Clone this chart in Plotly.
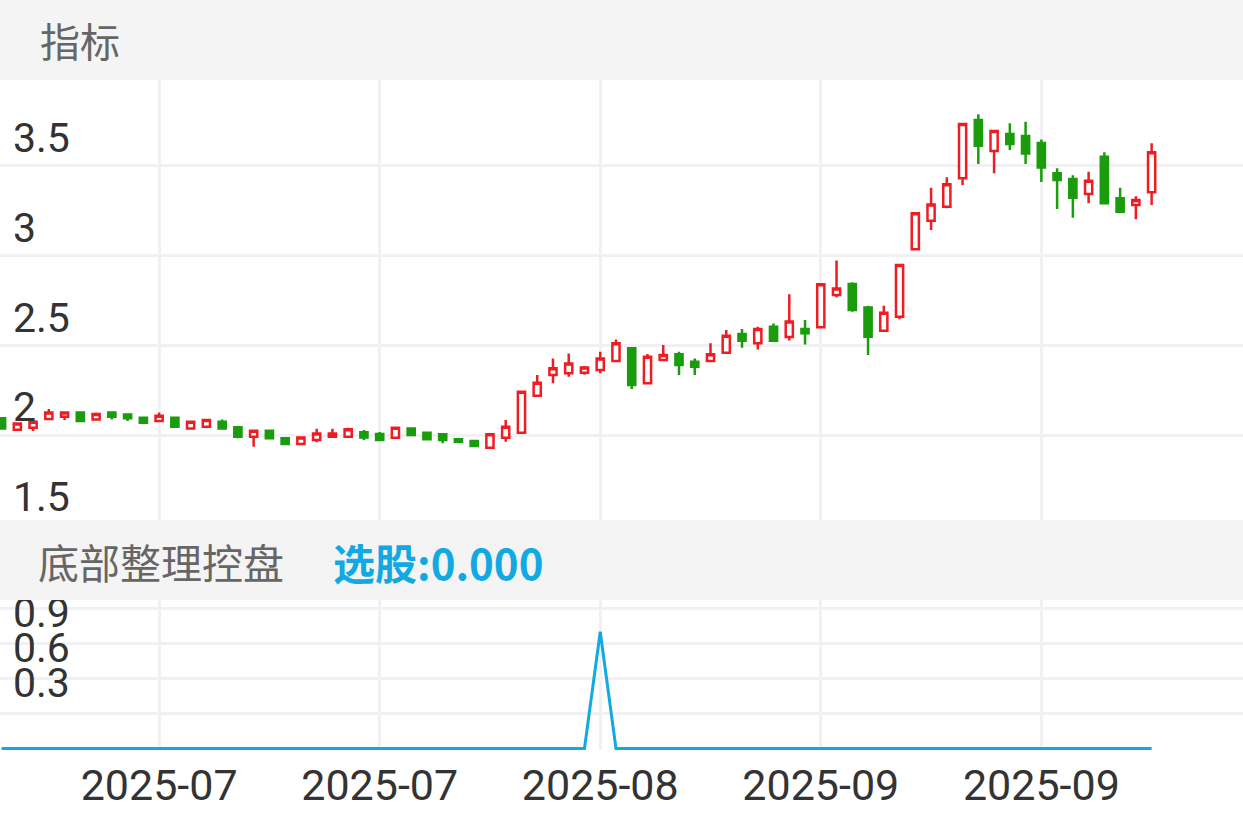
import pandas as pd
import plotly.graph_objects as go

W, H = 1243, 826

# trading days shown (one candle per day)
dates = pd.bdate_range("2025-06-26", periods=74).strftime("%Y-%m-%d").tolist()

open_ = [2.093, 2.030, 2.041, 2.089, 2.102, 2.126, 2.087, 2.126, 2.115, 2.096,
         2.078, 2.096, 2.037, 2.046, 2.074, 2.043, 1.991, 2.024, 1.982, 1.950,
         1.972, 1.991, 1.991, 2.015, 2.006, 1.985, 2.037, 2.013, 2.004, 1.976,
         1.967, 1.929, 1.985, 2.013, 2.219, 2.334, 2.344, 2.347, 2.362, 2.412,
         2.483, 2.288, 2.418, 2.450, 2.408, 2.412, 2.459, 2.563, 2.511, 2.603,
         2.546, 2.591, 2.600, 2.780, 2.841, 2.711, 2.581, 2.659, 3.035, 3.194,
         3.272, 3.430, 3.755, 3.582, 3.677, 3.666, 3.627, 3.458, 3.426, 3.343,
         3.550, 3.319, 3.281, 3.352]
high = [2.093, 2.065, 2.074, 2.145, 2.126, 2.126, 2.126, 2.126, 2.115, 2.096,
        2.126, 2.096, 2.074, 2.084, 2.087, 2.043, 2.024, 2.024, 1.982, 1.987,
        2.035, 2.035, 2.040, 2.028, 2.017, 2.041, 2.037, 2.013, 2.004, 1.976,
        1.967, 2.004, 2.084, 2.241, 2.334, 2.427, 2.455, 2.384, 2.464, 2.533,
        2.483, 2.451, 2.501, 2.464, 2.427, 2.511, 2.585, 2.591, 2.603, 2.622,
        2.785, 2.641, 2.840, 2.973, 2.851, 2.720, 2.720, 2.947, 3.235, 3.378,
        3.436, 3.733, 3.787, 3.694, 3.737, 3.745, 3.647, 3.486, 3.448, 3.467,
        3.575, 3.378, 3.331, 3.625]
low = [2.037, 2.030, 2.022, 2.089, 2.084, 2.078, 2.087, 2.087, 2.078, 2.069,
       2.078, 2.046, 2.037, 2.046, 2.037, 1.982, 1.935, 1.982, 1.950, 1.950,
       1.960, 1.991, 1.991, 1.972, 1.972, 1.985, 2.000, 1.976, 1.954, 1.963,
       1.939, 1.929, 1.963, 2.013, 2.213, 2.288, 2.325, 2.336, 2.344, 2.408,
       2.256, 2.288, 2.418, 2.334, 2.334, 2.412, 2.459, 2.486, 2.477, 2.525,
       2.527, 2.505, 2.600, 2.768, 2.687, 2.446, 2.581, 2.645, 3.035, 3.142,
       3.263, 3.393, 3.510, 3.458, 3.588, 3.510, 3.410, 3.259, 3.211, 3.291,
       3.291, 3.244, 3.202, 3.281]
close = [2.037, 2.065, 2.074, 2.126, 2.126, 2.078, 2.117, 2.102, 2.093, 2.069,
         2.108, 2.046, 2.074, 2.084, 2.037, 1.991, 2.024, 1.982, 1.950, 1.987,
         2.009, 2.009, 2.033, 1.987, 1.972, 2.041, 2.000, 1.976, 1.972, 1.963,
         1.939, 2.004, 2.046, 2.241, 2.291, 2.372, 2.399, 2.377, 2.427, 2.511,
         2.279, 2.436, 2.446, 2.390, 2.380, 2.450, 2.553, 2.525, 2.591, 2.525,
         2.633, 2.567, 2.840, 2.817, 2.696, 2.548, 2.681, 2.947, 3.235, 3.285,
         3.397, 3.733, 3.612, 3.694, 3.621, 3.569, 3.490, 3.421, 3.322, 3.417,
         3.291, 3.244, 3.309, 3.575]

# 选股 signal
signal = [0, 0, 0, 0, 0, 0, 0, 0, 0, 0, 0, 0, 0, 0, 0, 0, 0, 0, 0, 0,
          0, 0, 0, 0, 0, 0, 0, 0, 0, 0, 0, 0, 0, 0, 0, 0, 0, 0, 1, 0,
          0, 0, 0, 0, 0, 0, 0, 0, 0, 0, 0, 0, 0, 0, 0, 0, 0, 0, 0, 0,
          0, 0, 0, 0, 0, 0, 0, 0, 0, 0, 0, 0, 0, 0]

tick_idx = [10, 24, 38, 52, 66]
tick_dates = [dates[i] for i in tick_idx]
tick_text = [d[:7] for d in tick_dates]

RED = "#ee1d24"
GREEN = "#1a9c0c"
BLUE = "#12a9e2"
GRID = "#f1f1f3"


def py(px):
    # pixel from top -> paper fraction
    return 1 - px / H


fig = go.Figure()

fig.add_trace(go.Candlestick(
    x=dates, open=open_, high=high, low=low, close=close,
    increasing=dict(line=dict(color=RED, width=2.5), fillcolor="white"),
    decreasing=dict(line=dict(color=GREEN, width=2.5), fillcolor=GREEN),
    whiskerwidth=0, xaxis="x", yaxis="y", hoverinfo="skip"))

fig.add_trace(go.Scatter(
    x=dates, y=signal, mode="lines", line=dict(color=BLUE, width=3),
    xaxis="x2", yaxis="y2", hoverinfo="skip"))

xcommon = dict(type="category", range=[-0.1, 78.8], tickvals=tick_dates,
               showgrid=True, gridcolor=GRID, gridwidth=3, zeroline=False,
               showline=False, ticks="", fixedrange=True)

fig.update_layout(
    width=W, height=H,
    margin=dict(l=0, r=0, t=0, b=0),
    paper_bgcolor="white", plot_bgcolor="white",
    showlegend=False,
    boxgap=0.35,
    font=dict(family="Roboto, Noto Sans CJK SC", color="#333333"),
    xaxis=dict(**xcommon, anchor="y", showticklabels=False,
               rangeslider=dict(visible=False)),
    xaxis2=dict(**xcommon, anchor="y2", ticktext=tick_text, ticklabelstandoff=6,
                tickfont=dict(size=43, color="#333333")),
    yaxis=dict(domain=[py(524.8), py(80)], range=[1.5, 3.978],
               tickvals=[1.5, 2, 2.5, 3, 3.5], ticktext=["1.5", "2", "2.5", "3", "3.5"],
               ticklabelposition="inside", ticklabelshift=-28, ticklabelstandoff=10,
               tickfont=dict(size=41, color="#333333"),
               showgrid=True, gridcolor=GRID, gridwidth=3, zeroline=False, ticks=""),
    # lower panel reaches under the header band so the top label is not dropped
    yaxis2=dict(domain=[py(750), py(580)], range=[-0.013, 1.444],
                tickvals=[0.3, 0.6, 0.9, 1.2], ticktext=["0.3", "0.6", "0.9", ""],
                ticklabelposition="inside", ticklabelshift=-31, ticklabelstandoff=10,
                tickfont=dict(size=41, color="#333333"),
                showgrid=True, gridcolor=GRID, gridwidth=3, zeroline=False, ticks=""),
)

# header bands
fig.add_shape(type="rect", xref="paper", yref="paper", x0=0, x1=1, y0=py(80), y1=1,
              fillcolor="#f4f4f4", line_width=0, layer="above")
fig.add_shape(type="rect", xref="paper", yref="paper", x0=0, x1=1, y0=py(600), y1=py(520),
              fillcolor="#f4f4f4", line_width=0, layer="above")

fig.add_annotation(x=38 / W, y=py(40), xref="paper", yref="paper", text="指标",
                   showarrow=False, xanchor="left", yanchor="middle",
                   font=dict(size=40, color="#666666", family="Noto Sans CJK SC"))
fig.add_annotation(x=36 / W, y=py(561), xref="paper", yref="paper", text="底部整理控盘",
                   showarrow=False, xanchor="left", yanchor="middle",
                   font=dict(size=41, color="#666666", family="Noto Sans CJK SC"))
fig.add_annotation(x=331 / W, y=py(561), xref="paper", yref="paper",
                   text="<b>选股:0.000</b>",
                   showarrow=False, xanchor="left", yanchor="middle",
                   font=dict(size=42, color=BLUE, family="Noto Sans CJK SC"))

# page body has a default margin; remove it so the figure fills the window
fig.write_html("out.html", config={"displayModeBar": False},
               post_script="document.body.style.margin='0';document.body.style.overflow='hidden';")
